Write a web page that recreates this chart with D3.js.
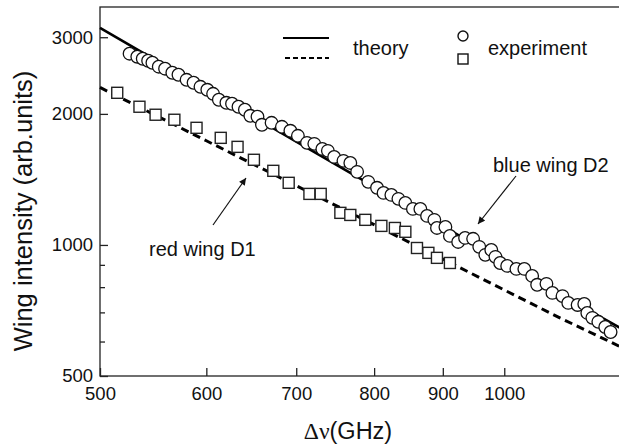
<!DOCTYPE html>
<html>
<head>
<meta charset="utf-8">
<script src="https://cdn.jsdelivr.net/npm/d3@7"></script>
<style>
  body { margin: 0; background: #fff; }
  svg { display: block; font-family: "Liberation Sans", Arial, sans-serif; }
</style>
</head>
<body>
<svg id="chart" width="619" height="447"></svg>
<script>
// blue wing D2 (circles): frequency detuning (GHz) and intensity (arb. units)
var blueFreq = [526, 533, 538, 543, 547, 553, 559, 566, 572, 580, 587, 594, 601, 607, 613, 621, 627, 634, 641, 647,
  655, 660, 671, 683, 693, 702, 713, 722, 732, 739, 747, 759, 768, 777, 792, 804, 813, 824, 834, 844,
  855, 866, 876, 887, 891, 904, 911, 924, 935, 948, 958, 968, 978, 985, 993, 1005, 1021, 1035, 1049, 1058,
  1075, 1086, 1105, 1116, 1134, 1147, 1153, 1163, 1175, 1189, 1200];
var blueInt = [2750, 2706, 2677, 2649, 2621, 2567, 2540, 2486, 2460, 2395, 2358, 2308, 2272, 2224, 2155, 2121, 2110, 2077, 2044, 1980,
  1970, 1888, 1908, 1868, 1829, 1781, 1716, 1707, 1662, 1645, 1593, 1560, 1543, 1472, 1396, 1353, 1317, 1303, 1276, 1249,
  1210, 1210, 1166, 1142, 1094, 1100, 1049, 1016, 1038, 1033, 990, 949, 974, 939, 909, 895, 881, 881, 849, 810,
  814, 776, 763, 736, 728, 732, 698, 680, 666, 648, 631];

// red wing D1 (squares)
var redFreq = [515, 535, 550, 568, 590, 615, 633, 651, 673, 691, 716, 730, 755, 768, 788, 810, 829, 844, 861, 878, 891, 911];
var redInt = [2236, 2077, 1991, 1939, 1858, 1762, 1680, 1569, 1480, 1389, 1310, 1310, 1185, 1172, 1142, 1106, 1094, 1072, 984, 959, 934, 909];

// theory curves
var theoryFreq = [500, 600, 700, 800, 900, 1000, 1100, 1230];
var theoryBlue = [3150, 2275, 1728, 1362, 1104, 915, 771, 636];
var theoryRed = [2300, 1735, 1368, 1113, 928, 788, 680, 577];

var xTicks = [500, 600, 700, 800, 900, 1000];
var yTicks = [500, 1000, 2000, 3000];
var yMinor = [600, 700, 800, 900];

var svg = d3.select("#chart");
var plotLeft = 100, plotRight = 625, plotTop = 7, plotBottom = 376;

var x = d3.scaleLog().domain([500, 1230]).range([plotLeft, plotRight]);
var y = d3.scaleLog().domain([500, 3520]).range([plotBottom, plotTop]);

// frame
svg.append("rect")
  .attr("x", plotLeft).attr("y", plotTop)
  .attr("width", plotRight - plotLeft).attr("height", plotBottom - plotTop)
  .attr("fill", "none").attr("stroke", "#222").attr("stroke-width", 1.3);

var xAxis = svg.append("g")
  .attr("transform", "translate(0," + plotBottom + ")")
  .call(d3.axisBottom(x).tickValues(xTicks).tickFormat(d3.format("d"))
    .tickSize(-8).tickSizeOuter(0).tickPadding(11));
var yAxis = svg.append("g")
  .attr("transform", "translate(" + plotLeft + ",0)")
  .call(d3.axisLeft(y).tickValues(yTicks).tickFormat(d3.format("d"))
    .tickSize(-8).tickSizeOuter(0).tickPadding(7));
var yAxisMinor = svg.append("g")
  .attr("transform", "translate(" + plotLeft + ",0)")
  .call(d3.axisLeft(y).tickValues(yMinor).tickFormat("")
    .tickSize(-5).tickSizeOuter(0));

[xAxis, yAxis, yAxisMinor].forEach(function (g) {
  g.select(".domain").remove();
  g.selectAll("line").attr("stroke", "#222").attr("stroke-width", 1.3);
  g.selectAll("text").attr("fill", "#111").style("font-size", "18.5px")
    .style("font-family", "'Liberation Sans', Arial, sans-serif");
});

// theory lines
var line = d3.line()
  .x(function (d) { return x(d[0]); })
  .y(function (d) { return y(d[1]); });

svg.append("path")
  .datum(d3.zip(theoryFreq, theoryBlue))
  .attr("d", line)
  .attr("fill", "none").attr("stroke", "#000").attr("stroke-width", 2.6);
svg.append("path")
  .datum(d3.zip(theoryFreq, theoryRed))
  .attr("d", line)
  .attr("fill", "none").attr("stroke", "#000").attr("stroke-width", 3)
  .attr("stroke-dasharray", "8,5");

// experiment markers
svg.append("g").selectAll("circle")
  .data(d3.zip(blueFreq, blueInt))
  .enter().append("circle")
  .attr("cx", function (d) { return x(d[0]); })
  .attr("cy", function (d) { return y(d[1]); })
  .attr("r", 6.3)
  .attr("fill", "#fff").attr("stroke", "#111").attr("stroke-width", 1.3);

var sq = 11;
svg.append("g").selectAll("rect")
  .data(d3.zip(redFreq, redInt))
  .enter().append("rect")
  .attr("x", function (d) { return x(d[0]) - sq / 2; })
  .attr("y", function (d) { return y(d[1]) - sq / 2; })
  .attr("width", sq).attr("height", sq)
  .attr("fill", "#fff").attr("stroke", "#222").attr("stroke-width", 1.4);

// legend
svg.append("line").attr("x1", 283).attr("x2", 329).attr("y1", 38).attr("y2", 38)
  .attr("stroke", "#000").attr("stroke-width", 2);
svg.append("line").attr("x1", 285).attr("x2", 329).attr("y1", 58).attr("y2", 58)
  .attr("stroke", "#000").attr("stroke-width", 2).attr("stroke-dasharray", "5,3");
svg.append("text").attr("x", 353).attr("y", 55).text("theory")
  .style("font-size", "20px").attr("fill", "#111");
svg.append("circle").attr("cx", 463).attr("cy", 36).attr("r", 5)
  .attr("fill", "#fff").attr("stroke", "#111").attr("stroke-width", 1.4);
svg.append("rect").attr("x", 458).attr("y", 54).attr("width", 10).attr("height", 10)
  .attr("fill", "#fff").attr("stroke", "#111").attr("stroke-width", 1.4);
svg.append("text").attr("x", 488).attr("y", 55).text("experiment")
  .style("font-size", "20px").attr("fill", "#111");

// annotations
svg.append("defs").append("marker")
  .attr("id", "arrow").attr("viewBox", "0 0 10 10")
  .attr("refX", 10).attr("refY", 5)
  .attr("markerWidth", 9).attr("markerHeight", 7)
  .attr("markerUnits", "userSpaceOnUse")
  .attr("orient", "auto")
  .append("path").attr("d", "M0,0L10,5L0,10z").attr("fill", "#111");

svg.append("line").attr("x1", 213).attr("y1", 225).attr("x2", 246).attr("y2", 178)
  .attr("stroke", "#111").attr("stroke-width", 1.2).attr("marker-end", "url(#arrow)");
svg.append("line").attr("x1", 516).attr("y1", 176).attr("x2", 478).attr("y2", 224)
  .attr("stroke", "#111").attr("stroke-width", 1.2).attr("marker-end", "url(#arrow)");

svg.append("text").attr("x", 149).attr("y", 256).text("red wing D1")
  .style("font-size", "20px").attr("fill", "#111");
svg.append("text").attr("x", 493).attr("y", 172).text("blue wing D2")
  .style("font-size", "20px").attr("fill", "#111");

// axis titles
svg.append("text")
  .attr("transform", "translate(32,211)rotate(-90)")
  .attr("text-anchor", "middle")
  .text("Wing intensity (arb.units)")
  .style("font-size", "25.5px").attr("fill", "#111");

var xt = svg.append("text")
  .attr("x", 348).attr("y", 439)
  .attr("text-anchor", "middle")
  .style("font-size", "23.5px").attr("fill", "#111");
xt.append("tspan").text("\u0394\u03bd").style("font-family", "'Liberation Serif', 'DejaVu Serif', serif");
xt.append("tspan").text("(GHz)");
</script>
</body>
</html>
